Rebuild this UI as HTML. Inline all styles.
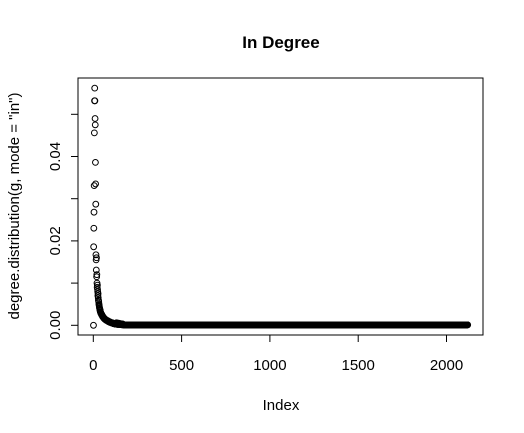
<!DOCTYPE html>
<html><head><meta charset="utf-8"><style>
body{margin:0;background:#fff}
svg{display:block;font-family:"Liberation Sans",Arial,sans-serif}
</style></head><body>
<svg id="chart" width="524" height="433" xmlns="http://www.w3.org/2000/svg">
<rect width="524" height="433" fill="#fff"/>
<text x="281" y="48" text-anchor="middle" font-size="17" font-weight="bold">In Degree</text>
<text x="281" y="410" text-anchor="middle" font-size="15">Index</text>
<text transform="translate(19,206) rotate(-90)" text-anchor="middle" font-size="15">degree.distribution(g, mode = "in")</text>
<rect x="78" y="78" width="405" height="257" fill="none" stroke="#000" stroke-width="1"/>
<g id="xaxis"></g>
<g id="yaxis"></g>
<g id="points"></g>
</svg>
<script>
const xTicks = [0, 500, 1000, 1500, 2000];
const yTicks = [0, 0.01, 0.02, 0.03, 0.04, 0.05];
const yTickLabels = ["0.00", "", "0.02", "", "0.04", ""];
const headValues = [0, 0.0186, 0.0230, 0.0268, 0.0331, 0.0456, 0.0532, 0.0562, 0.0532, 0.0490,
 0.0475, 0.0386, 0.0335, 0.0287, 0.0167, 0.0155, 0.0131, 0.0160, 0.0115, 0.0120,
 0.0100, 0.0090, 0.0095, 0.0085, 0.0080, 0.0070, 0.0075, 0.0065, 0.0060, 0.0058,
 0.0055, 0.0050, 0.0048, 0.0045, 0.0042, 0.0040, 0.0038, 0.0035, 0.0036, 0.0032,
 0.0031, 0.0030, 0.0029, 0.0028, 0.0027, 0.0026, 0.0026, 0.0025, 0.0024, 0.0023,
 0.0023, 0.0022, 0.0021, 0.0020, 0.0020, 0.0019, 0.0019, 0.0018, 0.0018, 0.0017,
 0.0017, 0.0016, 0.0016, 0.0015, 0.0015, 0.0015, 0.0014, 0.0014, 0.0014, 0.0013,
 0.0013, 0.0013, 0.0012, 0.0012, 0.0012, 0.0012, 0.0011, 0.0011, 0.0011, 0.0011,
 0.0010, 0.0010, 0.0010, 0.0010, 0.0009, 0.0009, 0.0009, 0.0009, 0.0009, 0.0008,
 0.0008, 0.0008, 0.0008, 0.0008, 0.0007, 0.0007, 0.0007, 0.0007, 0.0007, 0.0007,
 0.0006, 0.0006, 0.0006, 0.0006, 0.0006, 0.0006, 0.0005, 0.0005, 0.0005, 0.0005,
 0.0005, 0.0005, 0.0005, 0.0004, 0.0004, 0.0004, 0.0004, 0.0004, 0.0004, 0.0004,
 0.0004, 0.0004, 0.0003, 0.0003, 0.0003, 0.0003, 0.0003, 0.0003, 0.0003, 0.0003,
 0.0006, 0.0003, 0.0005, 0.0003, 0.0004, 0.0002, 0.0005, 0.0003, 0.0004, 0.0002,
 0.0004, 0.0003, 0.0005, 0.0002, 0.0004, 0.0003, 0.0004, 0.0002, 0.0003, 0.0002,
 0.0004, 0.0002, 0.0003, 0.0002, 0.0004, 0.0002, 0.0003, 0.0002, 0.0003, 0.0002,
 0.0003, 0.0001, 0.0003, 0.0002, 0.0003, 0.0001, 0.0003, 0.0002, 0.0002, 0.0001];
const tailCount = 1950;
const tailValue = 0.0001;

const xPx0 = 93.3, xPxPerUnit = 88.3/500;
const yPx0 = 325.3, yPxPerUnit = 4220;
function xs(v){return xPx0 + v*xPxPerUnit;}
function ys(v){return yPx0 - v*yPxPerUnit;}
const NS="http://www.w3.org/2000/svg";
function mk(tag, attrs, parent){const e=document.createElementNS(NS,tag);for(const k in attrs)e.setAttribute(k,attrs[k]);parent.appendChild(e);return e;}

const values = headValues.concat(new Array(tailCount).fill(tailValue));
const xa=document.getElementById('xaxis');
const xl=mk('line',{x1:xs(xTicks[0]),x2:xs(xTicks[xTicks.length-1]),y1:335,y2:335,stroke:'#000'},xa);


xTicks.forEach(t=>{
  const tl=mk('line',{x1:xs(t),x2:xs(t),y1:335,y2:342,stroke:'#000'},xa);
  
  
  const tx=mk('text',{x:xs(t),y:370,'text-anchor':'middle','font-size':'15'},xa);
  tx.textContent=String(t);
  
  
});
const ya=document.getElementById('yaxis');
const yl=mk('line',{x1:78,x2:78,y1:ys(yTicks[0]),y2:ys(yTicks[yTicks.length-1]),stroke:'#000'},ya);


yTicks.forEach((t,i)=>{
  const tl=mk('line',{x1:71,x2:78,y1:ys(t),y2:ys(t),stroke:'#000'},ya);
  
  
  if(yTickLabels[i]){
    const tx=mk('text',{transform:`translate(60,${ys(t)}) rotate(-90)`,'text-anchor':'middle','font-size':'15'},ya);
    tx.textContent=yTickLabels[i];
    
    
  }
});
const pg=document.getElementById('points');
values.forEach((v,i)=>{
  const c=mk('circle',{cx:xs(i+1),cy:ys(v),r:2.9,fill:'none',stroke:'#000','stroke-width':'1'},pg);
  
  
});
</script>
</body></html>
